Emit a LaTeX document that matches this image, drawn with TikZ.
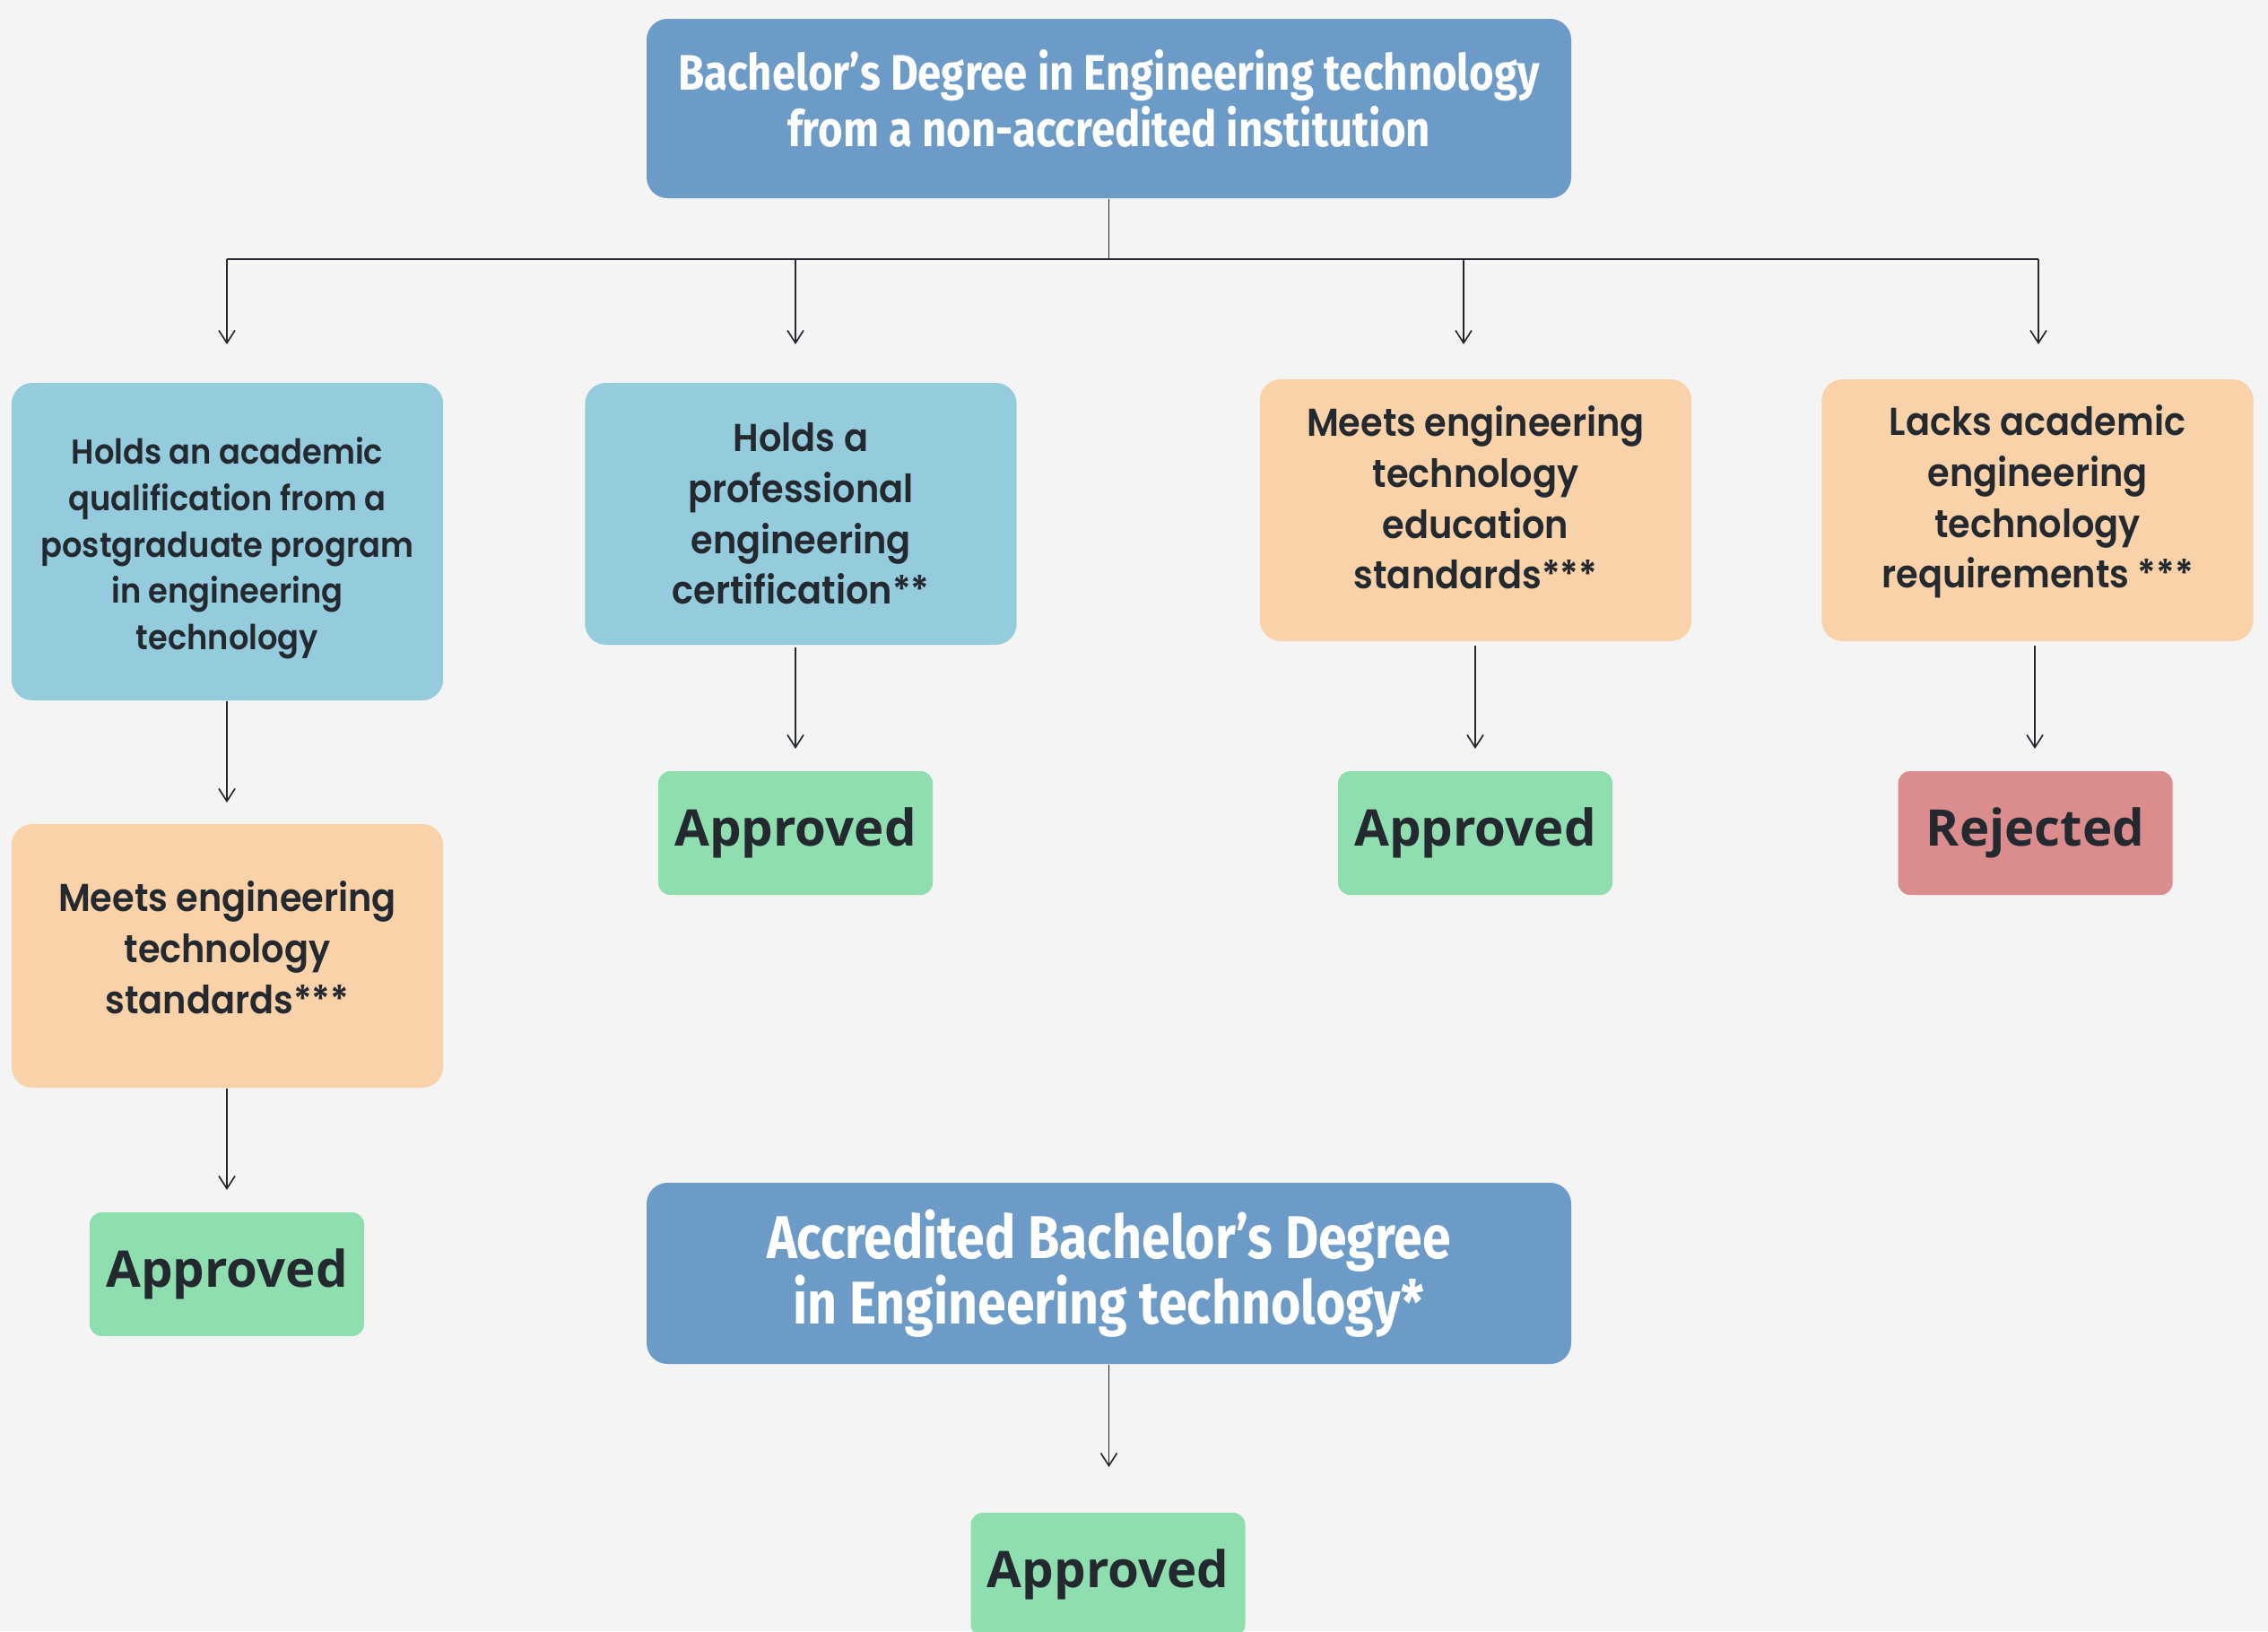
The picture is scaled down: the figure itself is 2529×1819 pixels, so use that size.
\documentclass[tikz,border=0pt]{standalone}
\usepackage{fontspec}
\usetikzlibrary{arrows.meta}
\newfontfamily\titlefont[FakeStretch=0.85]{Fira Sans}
\newfontfamily\boxfont[FakeStretch=0.92]{Poppins SemiBold}
\newfontfamily\resfont{Open Sans}
\definecolor{bgc}{HTML}{F4F4F4}
\definecolor{darkblue}{HTML}{6C9BC8}
\definecolor{lightblue}{HTML}{94CBDD}
\definecolor{peach}{HTML}{F9D2AA}
\definecolor{mint}{HTML}{8EDEB0}
\definecolor{rose}{HTML}{DB8D8D}
\definecolor{ink}{HTML}{23292E}
\tikzset{
  basebox/.style={rounded corners=7pt, inner sep=0pt, align=center, text=ink},
  titlebox/.style={basebox, fill=darkblue, text=white, minimum width=309.3pt, minimum height=60pt},
  bluebox/.style={basebox, fill=lightblue, minimum width=144.4pt},
  peachbox/.style={basebox, fill=peach, minimum width=144.4pt},
  resbox/.style={basebox, rounded corners=4pt, minimum width=91.8pt, minimum height=41.4pt,
    font=\resfont\bfseries\fontsize{16.9}{21}\selectfont},
  okbox/.style={resbox, fill=mint},
  nobox/.style={resbox, fill=rose},
  midfont/.style={font=\boxfont\fontsize{13}{17}\selectfont},
  inlabel/.style={inner sep=0pt, align=center, text=ink},
  line/.style={draw=ink, line width=0.5pt},
  arr/.style={line, -{Straight Barb[length=4.2pt,width=5.4pt]}},
}
\begin{document}
\begin{tikzpicture}[x=0.3pt,y=-0.3pt]
\fill[bgc] (0,0) rectangle (2529,1819);
\useasboundingbox (0,0) rectangle (2529,1819);
\clip (0,0) rectangle (2529,1819);

% top box
\node[titlebox, label={[inlabel, text=white, yshift=3.2pt, font=\titlefont\bfseries\fontsize{16.7}{18.9}\selectfont]center:{Bachelor’s Degree in Engineering technology\\from a non-accredited institution}}] (top) at (1236.5,121) {};

% level 1
\node[bluebox, minimum height=106.2pt, label={[inlabel, yshift=-2.2pt, font=\boxfont\fontsize{11.5}{15.5}\selectfont]center:{Holds an academic\\qualification from a\\postgraduate program\\in engineering\\technology}}] (qa) at (253.5,604) {};
\node[bluebox, minimum height=87.6pt, midfont] (qb) at (893,573)
  {Holds a\\professional\\engineering\\certification**};
\node[peachbox, minimum height=87.6pt, label={[inlabel, midfont, yshift=4.2pt]center:{Meets engineering\\technology\\education\\standards***}}] (qc) at (1645.5,569) {};
\node[peachbox, minimum height=87.6pt, label={[inlabel, midfont, yshift=2.8pt]center:{Lacks academic\\engineering\\technology\\requirements ***}}] (qd) at (2272,569) {};

% level 2
\node[peachbox, minimum height=88.2pt, label={[inlabel, midfont, yshift=2.8pt]center:{Meets engineering\\technology\\standards***}}] (qa2) at (253.5,1066) {};
\node[okbox] (ra) at (253,1421) {Approved};
\node[okbox] (rb) at (887,929) {Approved};
\node[okbox] (rc) at (1645,929) {Approved};
\node[nobox] (rd) at (2269.5,929) {Rejected};

% bottom
\node[titlebox, minimum height=60.6pt, font=\titlefont\bfseries\fontsize{20.2}{21.9}\selectfont] (acc) at (1236.5,1420)
  {Accredited Bachelor’s Degree\\in Engineering technology*};
\node[okbox] (racc) at (1235.5,1756) {Approved};

% connectors
\coordinate (j) at (1236.5,289);
\coordinate (b1) at (253,289);
\coordinate (b2) at (887,289);
\coordinate (b3) at (1632,289);
\coordinate (b4) at (2273,289);
\coordinate (e1) at (253,384);
\coordinate (e2) at (887,384);
\coordinate (e3) at (1632,384);
\coordinate (e4) at (2273,384);
\draw[line] (top.south) -- (j);
\draw[line, line width=0.7pt] (b1) -- (b4);
\draw[arr] (b1) -- (e1);
\draw[arr] (b2) -- (e2);
\draw[arr] (b3) -- (e3);
\draw[arr] (b4) -- (e4);

\coordinate (f1) at (253,895);
\coordinate (f2) at (887,835);
\coordinate (f3) at (1645,835);
\coordinate (f4) at (2269,835);
\coordinate (f5) at (253,1327);
\coordinate (f6) at (1236.5,1636);
\draw[arr] (qa.south -| f1) -- (f1);
\draw[arr] ([yshift=-0.6pt]qb.south -| f2) -- (f2);
\draw[arr] ([yshift=-1.2pt]qc.south -| f3) -- (f3);
\draw[arr] ([yshift=-1.2pt]qd.south -| f4) -- (f4);
\draw[arr] (qa2.south -| f5) -- (f5);
\draw[arr] (acc.south -| f6) -- (f6);
\end{tikzpicture}
\end{document}
